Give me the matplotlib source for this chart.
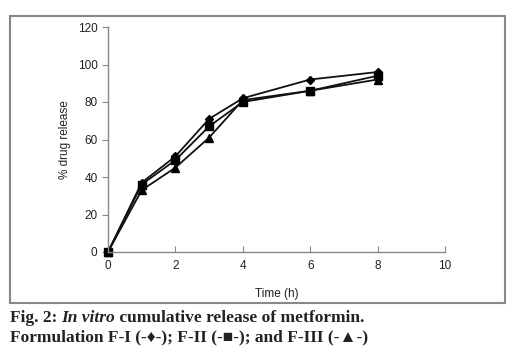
import matplotlib
matplotlib.use("Agg")
import matplotlib.pyplot as plt
from matplotlib.patches import Rectangle

time_h = [0, 1, 2, 3, 4, 6, 8]
f1 = [0, 37, 51, 71, 82, 92, 96]
f2 = [0, 36, 49, 67, 80, 86, 94]
f3 = [0, 33, 45, 61, 81, 86, 92]

W, H = 516, 354
plt.rcParams["font.family"] = ["Liberation Sans", "DejaVu Sans"]
fig = plt.figure(figsize=(W / 100, H / 100), dpi=100)
ax = fig.add_axes([108 / W, 1 - 252 / H, (445 - 108) / W, (252 - 27) / H])

for vals, m, ms in [(f1, "D", 4.5), (f2, "s", 5.5), (f3, "^", 5.5)]:
    ax.plot(time_h, vals, color="#111111", lw=1.3, marker=m, ms=ms,
            markerfacecolor="black", markeredgecolor="black", clip_on=False)

ax.set_xlim(0, 10)
ax.set_ylim(0, 120)
ax.set_xticks(range(0, 11, 2))
ax.set_yticks(range(0, 121, 20))
for s in ["top", "right"]:
    ax.spines[s].set_visible(False)
for s in ["left", "bottom"]:
    ax.spines[s].set_color("#888888")
    ax.spines[s].set_linewidth(1)
ax.tick_params(axis="both", colors="#888888", labelcolor="#222222",
               labelsize=8.5, length=4)
ax.tick_params(axis="x", direction="in", pad=6)
ax.set_xlabel("Time (h)", fontsize=8.5, color="#222222", labelpad=11)
ax.set_ylabel("% drug release", fontsize=8.5, color="#222222", labelpad=5)

# frame around figure panel
fig.add_artist(Rectangle((10 / W, 1 - 303 / H), (505 - 10) / W, (303 - 16) / H,
                         transform=fig.transFigure, fill=False,
                         edgecolor="#888888", lw=1.5))

serif = ["Liberation Serif", "DejaVu Sans"]
cap = dict(fontsize=12.5, fontweight="bold", family=serif, va="center", color="#222222")
fig.canvas.draw()
r = fig.canvas.get_renderer()
x = 10 / W
y1 = 1 - 318 / H
for txt, style in [("Fig. 2: ", "normal"), ("In vitro", "italic"),
                   (" cumulative release of metformin.", "normal")]:
    t = fig.text(x, y1, txt, style=style, **cap)
    x = t.get_window_extent(renderer=r).x1 / W
fig.text(10 / W, 1 - 337 / H, "Formulation F-I (-\u2666-); F-II (-\u25a0-); and F-III (-\u25b2-)",
         **cap)

fig.savefig("out.png", dpi=100)
